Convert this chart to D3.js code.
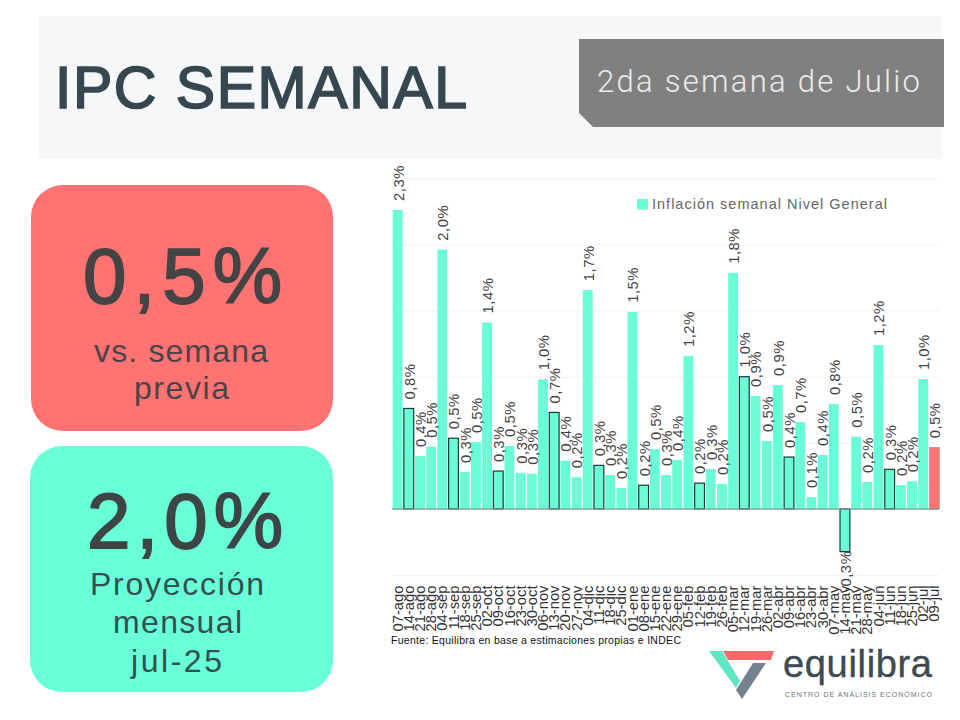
<!DOCTYPE html>
<html>
<head>
<meta charset="utf-8">
<script src="https://cdn.jsdelivr.net/npm/d3@7"></script>
<style>
  html, body { margin: 0; padding: 0; background: #fff; }
  svg { display: block; font-family: "Liberation Sans", Arial, sans-serif; }
</style>
</head>
<body>
<div id="chart-container"></div>
<script>
// Weeks on the x axis
const weeks = [
  '07-ago', '14-ago', '21-ago', '28-ago', '04-sep', '11-sep', '18-sep', '25-sep',
  '02-oct', '09-oct', '16-oct', '23-oct', '30-oct', '06-nov', '13-nov', '20-nov', '27-nov',
  '04-dic', '11-dic', '18-dic', '25-dic', '01-ene', '08-ene', '15-ene', '22-ene', '29-ene',
  '05-feb', '12-feb', '19-feb', '26-feb', '05-mar', '12-mar', '19-mar', '26-mar',
  '02-abr', '09-abr', '16-abr', '23-abr', '30-abr', '07-may', '14-may', '21-may', '28-may',
  '04-jun', '11-jun', '18-jun', '25-jun', '02-jul', '09-jul'
];

// Weekly inflation, in percent
const inflation = [
  2.26, 0.76, 0.40, 0.47, 1.96, 0.535, 0.28, 0.506,
  1.41, 0.287, 0.476, 0.274, 0.267, 0.98, 0.73, 0.365, 0.24,
  1.654, 0.33, 0.257, 0.159, 1.49, 0.18, 0.453, 0.257, 0.37,
  1.156, 0.196, 0.302, 0.189, 1.785, 1.0, 0.854, 0.514,
  0.937, 0.393, 0.657, 0.091, 0.408, 0.793, -0.322, 0.546, 0.204,
  1.239, 0.30, 0.181, 0.21, 0.982, 0.466
];

// Second week of each month gets a dark outline, the current one is red
const outlined = ['14-ago', '11-sep', '09-oct', '13-nov', '11-dic', '08-ene', '12-feb', '12-mar', '09-abr', '14-may', '11-jun'];
const currentWeek = '09-jul';

const gridTicks = [-0.5, 0.5, 1, 1.5, 2, 2.5];

const teal = '#69fcd7';
const red = '#ff7373';

const svg = d3.select('#chart-container')
  .append('svg')
  .attr('width', 960)
  .attr('height', 720);

// Text placed by its left edge, spaced out a bit and fitted to the width in the picture
function label(x, y, width, size, fill, str, weight) {
  return svg.append('text')
    .attr('x', x)
    .attr('y', y)
    .attr('textLength', width)
    .attr('lengthAdjust', 'spacing')
    .style('font-size', size + 'px')
    .attr('fill', fill)
    .attr('stroke', weight ? fill : 'none')
    .attr('stroke-width', weight || 0)
    .text(str);
}

// Header
svg.append('rect').attr('x', 39).attr('y', 16).attr('width', 903).attr('height', 143).attr('fill', '#f5f7f9');
svg.append('polygon').attr('points', '579,39 944,39 944,127 593,127 579,113').attr('fill', '#808080');
label(55, 108, 412, 59, '#37474f', 'IPC SEMANAL', 1.7);
label(597, 92, 323, 31, '#ececec', '2da semana de Julio').style('font-family', 'Roboto, sans-serif').style('font-weight', 300);

// Cards on the left
svg.append('rect').attr('x', 31).attr('y', 185).attr('width', 302).attr('height', 246).attr('rx', 32).attr('fill', red);
label(83, 303, 199, 78, '#444444', '0,5%', 1.8);
label(94, 362, 174, 32, '#4d4347', 'vs. semana');
label(134, 399, 95, 32, '#4d4347', 'previa');

svg.append('rect').attr('x', 30).attr('y', 446).attr('width', 303).attr('height', 246).attr('rx', 32).attr('fill', '#68ffd9');
label(87, 548, 196, 78, '#3d4545', '2,0%', 1.8);
label(90, 595, 174, 32, '#33504c', 'Proyección');
label(113, 633, 129, 32, '#33504c', 'mensual');
label(131, 672, 91, 32, '#33504c', 'jul-25');

// Scales
const x = d3.scaleBand()
  .domain(weeks)
  .range([392, 940])
  .paddingInner(0.12)
  .paddingOuter(0.06);

const y = d3.scaleLinear()
  .domain([-0.5, 2.5])
  .range([575.2, 178.2]);

// Gridlines
const grid = svg.append('g')
  .attr('transform', 'translate(392,0)')
  .call(d3.axisLeft(y).tickValues(gridTicks).tickSize(-547).tickFormat(''));
grid.select('.domain').remove();
grid.selectAll('line').attr('stroke', '#f0f0f0');

// Bars
const rows = weeks.map((week, i) => ({ week, value: inflation[i] }));

svg.append('g').selectAll('rect')
  .data(rows)
  .join('rect')
  .attr('x', d => x(d.week))
  .attr('y', d => y(Math.max(d.value, 0)))
  .attr('width', x.bandwidth())
  .attr('height', d => Math.abs(y(d.value) - y(0)))
  .attr('fill', d => d.week === currentWeek ? red : teal)
  .attr('stroke', d => outlined.includes(d.week) ? '#0f3d35' : d.week === currentWeek ? '#a09090' : 'none')
  .attr('stroke-width', d => outlined.includes(d.week) ? 1.2 : 0.7);

// Baseline
svg.append('line')
  .attr('x1', 392).attr('x2', 939)
  .attr('y1', y(0)).attr('y2', y(0))
  .attr('stroke', '#7f9a92')
  .attr('stroke-width', 1.2);

// Value labels, rotated
const fmt = v => d3.format('.1f')(v).replace('.', ',').replace('−', '-') + '%';

svg.append('g').selectAll('text')
  .data(rows)
  .join('text')
  .attr('transform', d => {
    const px = x(d.week) + x.bandwidth() / 2 + 1;
    const py = d.value < 0 ? y(d.value) - 1 : y(d.value) - 9;
    return `translate(${px},${py}) rotate(-90) scale(1.06,1)`;
  })
  .attr('text-anchor', d => d.value < 0 ? 'end' : 'start')
  .attr('dy', '0.35em')
  .attr('fill', '#444444')
  .style('font-size', '14px')
  .style('letter-spacing', '0.5px')
  .text(d => fmt(d.value));

// Week labels
const axis = svg.append('g')
  .attr('transform', 'translate(0,585.5)')
  .call(d3.axisBottom(x).tickSize(0));
axis.select('.domain').remove();
axis.selectAll('text')
  .attr('transform', 'rotate(-90) scale(1.02,1)')
  .attr('text-anchor', 'end')
  .attr('x', 0)
  .attr('y', 0)
  .attr('dy', '0.35em')
  .attr('fill', '#333333')
  .style('font-size', '14.5px')
  .style('font-family', '"Liberation Sans", Arial, sans-serif');

// Legend
svg.append('rect').attr('x', 637).attr('y', 199).attr('width', 11).attr('height', 10.5).attr('fill', teal);
label(652, 209, 235, 14.5, '#666666', 'Inflación semanal Nivel General');

// Source
label(391, 644, 290, 10.5, '#111111', 'Fuente: Equilibra en base a estimaciones propias e INDEC');

// Logo
svg.append('polygon').attr('points', '709,651 722,651 740,681 736,688').attr('fill', '#5fe6c4');
svg.append('polygon').attr('points', '723,651 774,651 771,660 728,660').attr('fill', '#f8686b');
svg.append('polygon').attr('points', '753,663 766,663 742,699 736,690').attr('fill', '#74848e');
label(783, 677, 149, 38, '#3d4a52', 'equilibra', 0.4);
label(785, 697, 147, 7, '#6a757b', 'CENTRO DE ANÁLISIS ECONÓMICO');
</script>
</body>
</html>
